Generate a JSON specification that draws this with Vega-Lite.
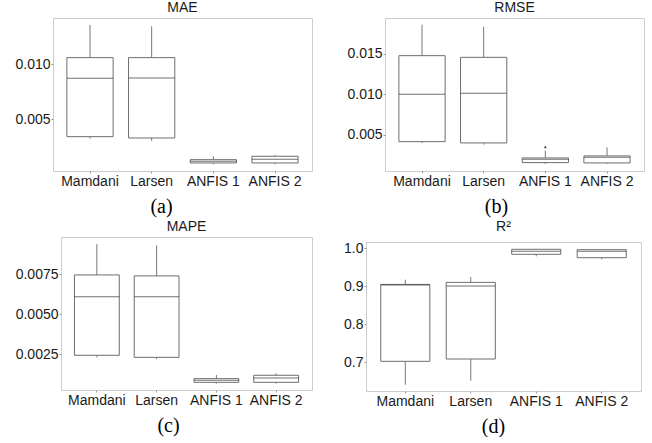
{
  "$schema": "https://vega.github.io/schema/vega-lite/v6.json",
  "padding": {"left": 0, "top": 0, "right": 5, "bottom": 0},
  "background": "white",
  "datasets": {
    "stats": [
      {"metric": "MAE", "method": "Mamdani", "min": 0.00324, "q1": 0.00342, "median": 0.00873, "q3": 0.0106, "max": 0.01357},
      {"metric": "MAE", "method": "Larsen", "min": 0.00303, "q1": 0.0033, "median": 0.00875, "q3": 0.0106, "max": 0.01345},
      {"metric": "MAE", "method": "ANFIS 1", "min": 0.0009, "q1": 0.00103, "median": 0.00118, "q3": 0.00133, "max": 0.00164},
      {"metric": "MAE", "method": "ANFIS 2", "min": 0.0009, "q1": 0.00103, "median": 0.00136, "q3": 0.00164, "max": 0.00176},
      {"metric": "RMSE", "method": "Mamdani", "min": 0.00397, "q1": 0.00413, "median": 0.0100, "q3": 0.01479, "max": 0.01863},
      {"metric": "RMSE", "method": "Larsen", "min": 0.00376, "q1": 0.00397, "median": 0.01012, "q3": 0.01458, "max": 0.01839},
      {"metric": "RMSE", "method": "ANFIS 1", "min": 0.00136, "q1": 0.00153, "median": 0.00194, "q3": 0.00211, "max": 0.00302},
      {"metric": "RMSE", "method": "ANFIS 2", "min": 0.00136, "q1": 0.00149, "median": 0.0022, "q3": 0.00236, "max": 0.00343},
      {"metric": "MAPE", "method": "Mamdani", "min": 0.00231, "q1": 0.00244, "median": 0.0061, "q3": 0.00746, "max": 0.00938},
      {"metric": "MAPE", "method": "Larsen", "min": 0.0022, "q1": 0.00231, "median": 0.0061, "q3": 0.0074, "max": 0.0093},
      {"metric": "MAPE", "method": "ANFIS 1", "min": 0.00067, "q1": 0.00075, "median": 0.00088, "q3": 0.00098, "max": 0.00121},
      {"metric": "MAPE", "method": "ANFIS 2", "min": 0.00067, "q1": 0.00075, "median": 0.00102, "q3": 0.00119, "max": 0.00131},
      {"metric": "R2", "method": "Mamdani", "min": 0.640, "q1": 0.7018, "median": 0.9026, "q3": 0.9042, "max": 0.9166},
      {"metric": "R2", "method": "Larsen", "min": 0.6508, "q1": 0.7079, "median": 0.900, "q3": 0.9095, "max": 0.9237},
      {"metric": "R2", "method": "ANFIS 1", "min": 0.978, "q1": 0.9834, "median": 0.9913, "q3": 0.9966, "max": 0.9966},
      {"metric": "R2", "method": "ANFIS 2", "min": 0.970, "q1": 0.9745, "median": 0.9913, "q3": 0.9956, "max": 0.9956}
    ],
    "outliers": [
      {"metric": "RMSE", "method": "ANFIS 1", "value": 0.00343}
    ],
    "blank": [
      {"t": ""}
    ]
  },
  "columns": 3,
  "align": "none",
  "spacing": {"row": 2, "column": 10},
  "concat": [
    {
      "width": 1, "height": 1,
      "data": {"name": "blank"},
      "mark": {"type": "text", "opacity": 0},
      "encoding": {"text": {"field": "t"}},
      "view": {"stroke": null}
    },
    {
      "title": {"text": "MAE", "offset": 3},
      "width": 259, "height": 153,
      "data": {"name": "stats"},
      "transform": [{"filter": "datum.metric === 'MAE'"}],
      "encoding": {"x": {"field": "method", "type": "nominal", "sort": ["Mamdani", "Larsen", "ANFIS 1", "ANFIS 2"], "scale": {"paddingInner": 0, "paddingOuter": 0.1}, "axis": {"title": "(a)", "titleX": 108}}},
      "layer": [
        {"mark": {"type": "rule", "color": "#777777"}, "encoding": {"y": {"field": "min", "type": "quantitative", "scale": {"domain": [0.0003, 0.0142], "nice": false, "zero": false}, "axis": {"values": [0.005, 0.01], "format": ".3f", "title": null, "minExtent": 41, "maxExtent": 41}}, "y2": {"field": "max"}}},
        {"mark": {"type": "bar", "fill": "white", "stroke": "#6e6e6e", "strokeWidth": 1, "width": {"band": 0.75}}, "encoding": {"y": {"field": "q1", "type": "quantitative", "scale": {"domain": [0.0003, 0.0142], "nice": false, "zero": false}, "axis": {"values": [0.005, 0.01], "format": ".3f", "title": null, "minExtent": 41, "maxExtent": 41}}, "y2": {"field": "q3"}}},
        {"mark": {"type": "tick", "color": "#333333", "thickness": 1, "size": 46}, "encoding": {"y": {"field": "median", "type": "quantitative", "scale": {"domain": [0.0003, 0.0142], "nice": false, "zero": false}, "axis": {"values": [0.005, 0.01], "format": ".3f", "title": null, "minExtent": 41, "maxExtent": 41}}}}
      ]
    },
    {
      "title": {"text": "RMSE", "offset": 3},
      "width": 259, "height": 153,
      "data": {"name": "stats"},
      "transform": [{"filter": "datum.metric === 'RMSE'"}],
      "encoding": {"x": {"field": "method", "type": "nominal", "sort": ["Mamdani", "Larsen", "ANFIS 1", "ANFIS 2"], "scale": {"paddingInner": 0, "paddingOuter": 0.1}, "axis": {"title": "(b)", "titleX": 111}}},
      "layer": [
        {"mark": {"type": "rule", "color": "#777777"}, "encoding": {"y": {"field": "min", "type": "quantitative", "scale": {"domain": [0.00049, 0.01946], "nice": false, "zero": false}, "axis": {"values": [0.005, 0.01, 0.015], "format": ".3f", "title": null, "minExtent": 61, "maxExtent": 61}}, "y2": {"field": "max"}}},
        {"mark": {"type": "bar", "fill": "white", "stroke": "#6e6e6e", "strokeWidth": 1, "width": {"band": 0.75}}, "encoding": {"y": {"field": "q1", "type": "quantitative", "scale": {"domain": [0.00049, 0.01946], "nice": false, "zero": false}, "axis": {"values": [0.005, 0.01, 0.015], "format": ".3f", "title": null, "minExtent": 61, "maxExtent": 61}}, "y2": {"field": "q3"}}},
        {"mark": {"type": "tick", "color": "#333333", "thickness": 1, "size": 46}, "encoding": {"y": {"field": "median", "type": "quantitative", "scale": {"domain": [0.00049, 0.01946], "nice": false, "zero": false}, "axis": {"values": [0.005, 0.01, 0.015], "format": ".3f", "title": null, "minExtent": 61, "maxExtent": 61}}}},
        {"data": {"name": "outliers"}, "mark": {"type": "circle", "size": 5, "color": "#444444", "opacity": 1}, "encoding": {"y": {"field": "value", "type": "quantitative", "scale": {"domain": [0.00049, 0.01946], "nice": false, "zero": false}, "axis": {"values": [0.005, 0.01, 0.015], "format": ".3f", "title": null, "minExtent": 61, "maxExtent": 61}}}}
      ]
    },
    {
      "width": 1, "height": 1,
      "data": {"name": "blank"},
      "mark": {"type": "text", "opacity": 0},
      "encoding": {"text": {"field": "t"}},
      "view": {"stroke": null}
    },
    {
      "title": {"text": "MAPE", "offset": 3},
      "width": 251, "height": 153,
      "data": {"name": "stats"},
      "transform": [{"filter": "datum.metric === 'MAPE'"}],
      "encoding": {"x": {"field": "method", "type": "nominal", "sort": ["Mamdani", "Larsen", "ANFIS 1", "ANFIS 2"], "scale": {"paddingInner": 0, "paddingOuter": 0.1}, "axis": {"title": "(c)", "titleX": 107}}},
      "layer": [
        {"mark": {"type": "rule", "color": "#777777"}, "encoding": {"y": {"field": "min", "type": "quantitative", "scale": {"domain": [0.00027, 0.00983], "nice": false, "zero": false}, "axis": {"values": [0.0025, 0.005, 0.0075], "format": ".4f", "title": null, "minExtent": 49, "maxExtent": 49}}, "y2": {"field": "max"}}},
        {"mark": {"type": "bar", "fill": "white", "stroke": "#6e6e6e", "strokeWidth": 1, "width": {"band": 0.75}}, "encoding": {"y": {"field": "q1", "type": "quantitative", "scale": {"domain": [0.00027, 0.00983], "nice": false, "zero": false}, "axis": {"values": [0.0025, 0.005, 0.0075], "format": ".4f", "title": null, "minExtent": 49, "maxExtent": 49}}, "y2": {"field": "q3"}}},
        {"mark": {"type": "tick", "color": "#333333", "thickness": 1, "size": 45}, "encoding": {"y": {"field": "median", "type": "quantitative", "scale": {"domain": [0.00027, 0.00983], "nice": false, "zero": false}, "axis": {"values": [0.0025, 0.005, 0.0075], "format": ".4f", "title": null, "minExtent": 49, "maxExtent": 49}}}}
      ]
    },
    {
      "title": {"text": "R²", "offset": 7},
      "width": 275, "height": 149,
      "data": {"name": "stats"},
      "transform": [{"filter": "datum.metric === 'R2'"}],
      "encoding": {"x": {"field": "method", "type": "nominal", "sort": ["Mamdani", "Larsen", "ANFIS 1", "ANFIS 2"], "scale": {"paddingInner": 0, "paddingOuter": 0.1}, "axis": {"title": "(d)", "titleX": 127}}},
      "layer": [
        {"mark": {"type": "rule", "color": "#777777"}, "encoding": {"y": {"field": "min", "type": "quantitative", "scale": {"domain": [0.6237, 1.0158], "nice": false, "zero": false}, "axis": {"values": [0.7, 0.8, 0.9, 1.0], "format": ".1f", "title": null, "minExtent": 34, "maxExtent": 34}}, "y2": {"field": "max"}}},
        {"mark": {"type": "bar", "fill": "white", "stroke": "#6e6e6e", "strokeWidth": 1, "width": {"band": 0.75}}, "encoding": {"y": {"field": "q1", "type": "quantitative", "scale": {"domain": [0.6237, 1.0158], "nice": false, "zero": false}, "axis": {"values": [0.7, 0.8, 0.9, 1.0], "format": ".1f", "title": null, "minExtent": 34, "maxExtent": 34}}, "y2": {"field": "q3"}}},
        {"mark": {"type": "tick", "color": "#333333", "thickness": 1, "size": 49}, "encoding": {"y": {"field": "median", "type": "quantitative", "scale": {"domain": [0.6237, 1.0158], "nice": false, "zero": false}, "axis": {"values": [0.7, 0.8, 0.9, 1.0], "format": ".1f", "title": null, "minExtent": 34, "maxExtent": 34}}}}
      ]
    }
  ],
  "config": {
    "view": {"stroke": "#cccccc", "strokeWidth": 1},
    "axis": {"domain": false, "grid": false, "tickSize": 2, "tickColor": "#999999", "labelFont": "Liberation Sans", "labelFontSize": 14, "labelColor": "#1a1a1a", "labelPadding": 1},
    "axisX": {"labelAngle": 0, "titleFont": "Liberation Serif", "titleFontSize": 20, "titleFontWeight": "normal", "titleColor": "#000000", "titlePadding": 8, "titleAlign": "center"},
    "title": {"font": "Liberation Sans", "fontSize": 14, "fontWeight": "normal", "color": "#1a1a1a", "frame": "group", "anchor": "middle"}
  }
}
